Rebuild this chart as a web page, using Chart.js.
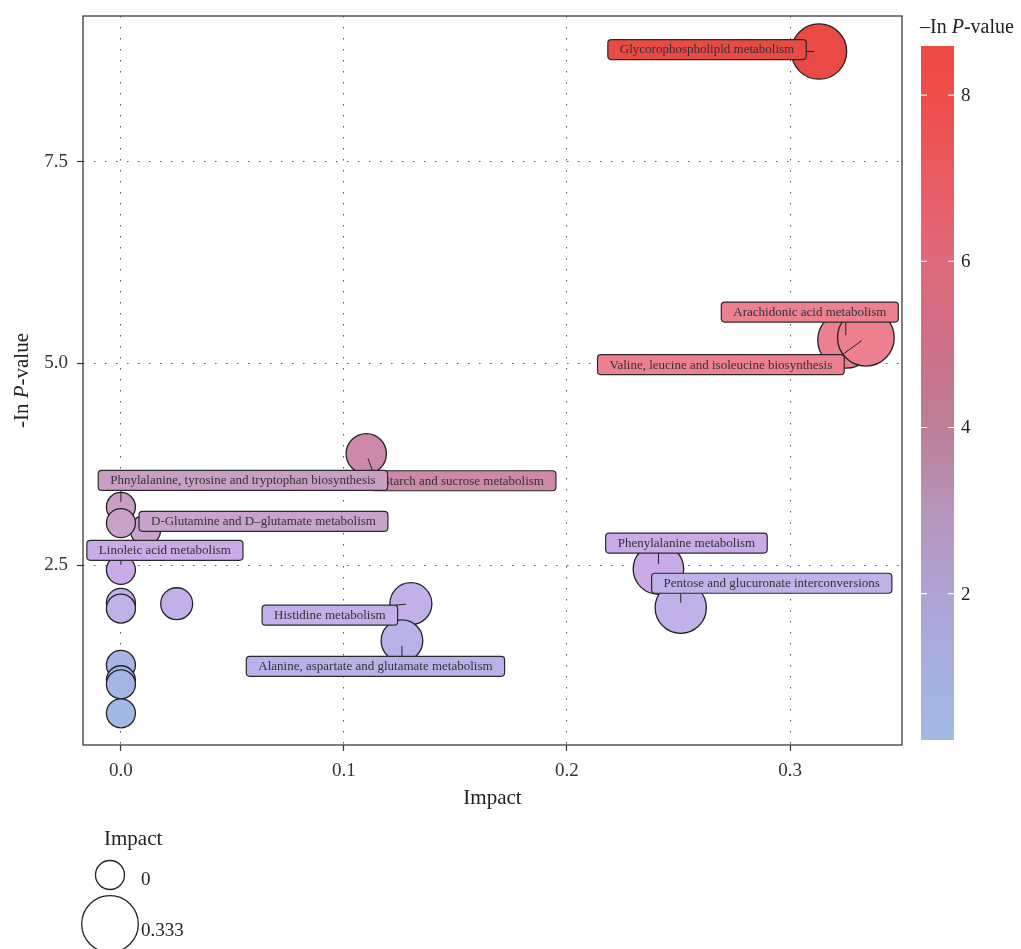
<!DOCTYPE html>
<html>
<head>
<meta charset="utf-8">
<script src="https://cdn.jsdelivr.net/npm/chart.js@4.4.1/dist/chart.umd.min.js"></script>
<style>
  html, body { margin: 0; padding: 0; background: #fff; }
  #wrap { width: 1021px; height: 949px; }
</style>
</head>
<body>
<div id="wrap"><canvas id="chart" width="1021" height="949"></canvas></div>
<script>
// Pathway data (drawing order: later points sit on top)
const pathways = [
    "Glycorophospholipld metabolism",
    "Arachidonic acid metabolism",
    "Valine, leucine and isoleucine biosynthesis",
    "Starch and sucrose metabolism",
    "Phnylalanine, tyrosine and tryptophan biosynthesis",
    "D-Glutamine and D\u2013glutamate metabolism",
    "",
    "Phenylalanine metabolism",
    "Linoleic acid metabolism",
    "Histidine metabolism",
    "",
    "",
    "",
    "Pentose and glucuronate interconversions",
    "Alanine, aspartate and glutamate metabolism",
    "",
    "",
    "",
    ""
];
const impact = [0.313, 0.325, 0.334, 0.110, 0.000, 0.011, 0.000, 0.241, 0.000, 0.130,
                0.025, 0.000, 0.000, 0.251, 0.126, 0.000, 0.000, 0.000, 0.000];
const negLnP = [8.87, 5.29, 5.32, 3.88, 3.22, 2.93, 3.02, 2.45, 2.44, 2.02,
                2.02, 2.03, 1.96, 1.97, 1.56, 1.26, 1.07, 1.02, 0.66];

const xTicks = [0, 0.1, 0.2, 0.3];
const yTicks = [2.5, 5.0, 7.5];
const colorbarTicks = [2, 4, 6, 8];
const sizeLegend = [0, 0.333];

// label box offsets from the point, in px (layout only)
const labelShift = [
    [-112, -2], [-36, -28], [-145, 27], [97, 27], [122, -26.5], [118, -9], null,
    [28, -26], [44, -19.5], [-81, 11.5], null, null, null, [91, -24.5], [-26.5, 25.5],
    null, null, null, null
];

const FONT = '"Liberation Serif", "Times New Roman", serif';
Chart.defaults.font.family = FONT;

// colour scales
const bubbleStops = [
    [0.6, "#a2b9e3"], [1.1, "#a6b5e4"], [1.5, "#b5b3e8"], [2.0, "#c2b1e9"], [2.45, "#c9abe8"],
    [2.9, "#c8a3cc"], [3.25, "#c89fc2"], [3.9, "#cc88a8"], [5.3, "#ec808f"], [8.9, "#e94a45"]
];
const barStops = [
    [0.24, "#a0bae4"], [2, "#aea3d4"], [3, "#b795bc"], [4, "#bb7e96"], [5, "#cf7088"],
    [6, "#df6a7b"], [7, "#e85c62"], [8, "#ee4d49"], [8.59, "#ef4a44"]
];
const cbMin = 0.24, cbMax = 8.59;

function hexToRgb(h) {
    return [parseInt(h.slice(1, 3), 16), parseInt(h.slice(3, 5), 16), parseInt(h.slice(5, 7), 16)];
}

function colorFor(v, stops) {
    if (v <= stops[0][0]) return stops[0][1];
    for (let i = 1; i < stops.length; i++) {
        if (v <= stops[i][0]) {
            let t = (v - stops[i - 1][0]) / (stops[i][0] - stops[i - 1][0]);
            let a = hexToRgb(stops[i - 1][1]), b = hexToRgb(stops[i][1]);
            let c = a.map((x, k) => Math.round(x + (b[k] - x) * t));
            return `rgb(${c[0]},${c[1]},${c[2]})`;
        }
    }
    return stops[stops.length - 1][1];
}

function sizeFor(imp) {
    let r0 = 14.5, r1 = 28.3;
    return Math.sqrt(r0 * r0 + (r1 * r1 - r0 * r0) * imp / 0.333);
}

function drawParts(ctx, parts, x, y, size, align) {
    let widths = parts.map(p => {
        ctx.font = (p[1] ? "italic " : "") + size + "px " + FONT;
        return ctx.measureText(p[0]).width;
    });
    let total = widths.reduce((a, b) => a + b, 0);
    let cx = align === "center" ? x - total / 2 : x;
    ctx.textAlign = "left";
    parts.forEach((p, i) => {
        ctx.font = (p[1] ? "italic " : "") + size + "px " + FONT;
        ctx.fillText(p[0], cx, y);
        cx += widths[i];
    });
}

function roundRect(ctx, x, y, w, h, r) {
    ctx.beginPath();
    ctx.moveTo(x + r, y);
    ctx.lineTo(x + w - r, y);
    ctx.quadraticCurveTo(x + w, y, x + w, y + r);
    ctx.lineTo(x + w, y + h - r);
    ctx.quadraticCurveTo(x + w, y + h, x + w - r, y + h);
    ctx.lineTo(x + r, y + h);
    ctx.quadraticCurveTo(x, y + h, x, y + h - r);
    ctx.lineTo(x, y + r);
    ctx.quadraticCurveTo(x, y, x + r, y);
    ctx.closePath();
}

// repel-style labels with leader segments
const labelPlugin = {
    id: "labels",
    afterDatasetsDraw(chart) {
        let ctx = chart.ctx;
        let xs = chart.scales.x, ys = chart.scales.y;
        ctx.save();
        ctx.font = "13px " + FONT;
        impact.forEach((imp, i) => {
            if (!labelShift[i]) return;
            let px = xs.getPixelForValue(imp), py = ys.getPixelForValue(negLnP[i]);
            let bx = px + labelShift[i][0], by = py + labelShift[i][1];
            let w = ctx.measureText(pathways[i]).width + 24, h = 20;
            let x0 = bx - w / 2, y0 = by - h / 2;
            // leader from the nearest point of the box towards the point
            let ex = Math.min(Math.max(px, x0 + 2), x0 + w - 2);
            let ey = Math.min(Math.max(py, y0), y0 + h);
            if (py > y0 && py < y0 + h) ex = px < bx ? x0 : x0 + w;
            let dx = px - ex, dy = py - ey, len = Math.hypot(dx, dy);
            if (len > 8) {
                let t = 1 - 5 / len;
                ctx.strokeStyle = "#222";
                ctx.lineWidth = 1;
                ctx.beginPath();
                ctx.moveTo(ex, ey);
                ctx.lineTo(ex + dx * t, ey + dy * t);
                ctx.stroke();
            }
            // box
            roundRect(ctx, x0, y0, w, h, 3.5);
            ctx.fillStyle = colorFor(negLnP[i], bubbleStops);
            ctx.fill();
            ctx.strokeStyle = "#2a2a2a";
            ctx.lineWidth = 1.2;
            ctx.stroke();
            ctx.fillStyle = "#333";
            ctx.textAlign = "center";
            ctx.textBaseline = "middle";
            ctx.fillText(pathways[i], bx, by + 0.5);
        });
        ctx.restore();
    }
};

// frame, axis titles, colour bar and size legend
const extrasPlugin = {
    id: "extras",
    afterDraw(chart) {
        let ctx = chart.ctx;
        let a = chart.chartArea;
        ctx.save();
        ctx.strokeStyle = "#3a3a3a";
        ctx.lineWidth = 1.3;
        ctx.strokeRect(a.left, a.top, a.right - a.left, a.bottom - a.top);

        ctx.fillStyle = "#222";
        ctx.textBaseline = "middle";
        drawParts(ctx, [["Impact", false]], (a.left + a.right) / 2, 798, 21, "center");

        ctx.save();
        ctx.translate(22, (a.top + a.bottom) / 2);
        ctx.rotate(-Math.PI / 2);
        drawParts(ctx, [["-In ", false], ["P", true], ["-value", false]], 0, 0, 21, "center");
        ctx.restore();

        // colour bar
        let cbX = 921, cbW = 33, cbTop = 46, cbBot = 740;
        let grad = ctx.createLinearGradient(0, cbBot, 0, cbTop);
        barStops.forEach(s => grad.addColorStop((s[0] - cbMin) / (cbMax - cbMin), s[1]));
        ctx.fillStyle = grad;
        ctx.fillRect(cbX, cbTop, cbW, cbBot - cbTop);
        ctx.fillStyle = "#222";
        drawParts(ctx, [["\u2013In ", false], ["P", true], ["-value", false]], cbX - 1, 28, 20, "left");
        colorbarTicks.forEach(v => {
            let y = cbBot - (v - cbMin) / (cbMax - cbMin) * (cbBot - cbTop);
            ctx.strokeStyle = "#fff";
            ctx.lineWidth = 1.2;
            ctx.beginPath();
            ctx.moveTo(cbX, y); ctx.lineTo(cbX + 6, y);
            ctx.moveTo(cbX + cbW - 6, y); ctx.lineTo(cbX + cbW, y);
            ctx.stroke();
            ctx.fillStyle = "#222";
            ctx.font = "19px " + FONT;
            ctx.textAlign = "left";
            ctx.fillText(String(v), 961, y + 1);
        });

        // size legend
        ctx.fillStyle = "#222";
        drawParts(ctx, [["Impact", false]], 104, 839, 21, "left");
        let legendY = [875, 924];
        sizeLegend.forEach((s, i) => {
            let r = sizeFor(s);
            ctx.beginPath();
            ctx.arc(110, legendY[i], r, 0, Math.PI * 2);
            ctx.fillStyle = "#fff";
            ctx.fill();
            ctx.strokeStyle = "#222";
            ctx.lineWidth = 1.3;
            ctx.stroke();
            ctx.fillStyle = "#222";
            ctx.font = "19px " + FONT;
            ctx.textAlign = "left";
            ctx.fillText(String(s), 141, legendY[i] + (i === 0 ? 5 : 7));
        });
        ctx.restore();
    }
};

const points = impact.map((imp, i) => ({ x: imp, y: negLnP[i], r: sizeFor(imp) }));

const gridStyle = {
    color: "#555",
    lineWidth: 1,
    tickLength: 6,
    tickColor: "#333",
    tickWidth: 1.2,
    tickBorderDash: []
};

new Chart(document.getElementById("chart"), {
    type: "bubble",
    data: {
        datasets: [{
            data: points,
            backgroundColor: ctx => colorFor(negLnP[ctx.dataIndex], bubbleStops),
            borderColor: "#222",
            borderWidth: 1.3
        }]
    },
    options: {
        responsive: false,
        animation: false,
        events: [],
        layout: { autoPadding: false, padding: { left: 0, top: 16, right: 119, bottom: 134 } },
        plugins: { legend: { display: false }, tooltip: { enabled: false } },
        scales: {
            x: {
                type: "linear",
                min: -0.017,
                max: 0.3502,
                afterBuildTicks: ax => { ax.ticks = xTicks.map(v => ({ value: v })); },
                afterFit: ax => { ax.height = 70; ax.paddingLeft = 0; ax.paddingRight = 0; },
                ticks: { callback: v => v.toFixed(1), font: { size: 19 }, color: "#333", padding: 9 },
                grid: gridStyle,
                border: { display: false, dash: [1.5, 9.5] }
            },
            y: {
                type: "linear",
                min: 0.267,
                max: 9.311,
                afterBuildTicks: ax => { ax.ticks = yTicks.map(v => ({ value: v })); },
                afterFit: ax => { ax.width = 83; ax.paddingTop = 0; ax.paddingBottom = 0; },
                ticks: { callback: v => v.toFixed(1), font: { size: 19 }, color: "#333", padding: 9 },
                grid: gridStyle,
                border: { display: false, dash: [1.5, 9.5] }
            }
        }
    },
    plugins: [labelPlugin, extrasPlugin]
});
</script>
</body>
</html>
